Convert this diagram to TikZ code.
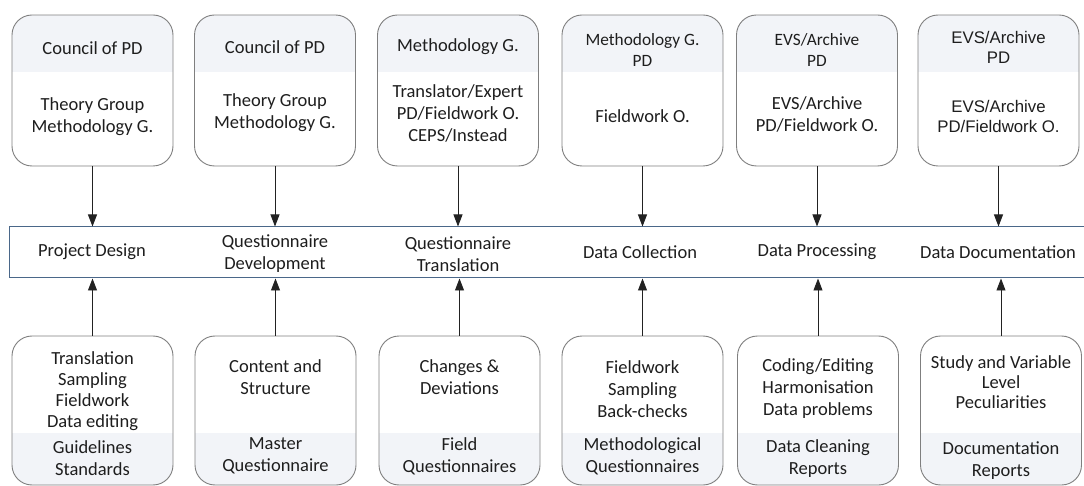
\documentclass[tikz,border=0pt]{standalone}
\usepackage{fontspec}
\setmainfont{Carlito}
\newfontfamily\arialf{Liberation Sans}
\usetikzlibrary{arrows.meta}
\definecolor{boxline}{HTML}{7F7F7F}
\definecolor{headfill}{HTML}{F2F4F8}
\definecolor{bandline}{HTML}{4A6789}
\definecolor{txt}{HTML}{1E1E1E}
\definecolor{arrcol}{HTML}{222222}
\tikzset{
 card/.style={draw=boxline, line width=0.9pt, rounded corners=20pt, minimum width=161pt, inner sep=0pt, fill=white},
 tophead/.style={minimum height=151pt, path picture={\fill[headfill, sharp corners] (path picture bounding box.north west) rectangle ([yshift=-57pt]path picture bounding box.north east);}},
 botfoot/.style={minimum height=149pt, path picture={\fill[headfill, sharp corners] (path picture bounding box.south west) rectangle ([yshift=52pt]path picture bounding box.south east);}},
 lbl/.style={align=center, inner sep=0pt, text=txt, font=\fontsize{18.5}{22}\selectfont},
 lblsmall/.style={lbl, font=\fontsize{17.3}{21}\selectfont},
 lblarial/.style={lbl, font=\arialf\fontsize{16.8}{20}\selectfont},
 arr/.style={draw=arrcol, line width=0.9pt, -{Triangle[width=9pt,length=12pt]}},
 band/.style={draw=bandline, line width=1pt, fill=white, minimum height=51pt, minimum width=1086pt, inner sep=0pt}
}
\begin{document}
\begin{tikzpicture}[x=1pt,y=-1pt]
\useasboundingbox (0,0) rectangle (1084,486);
% band
\node[band] (band) at (552,252.5) {};
% top boxes
\node[card,tophead] (t1) at (92.5,90.5) {};
\node[card,tophead] (t2) at (275,90.5) {};
\node[card,tophead] (t3) at (458,90.5) {};
\node[card,tophead] (t4) at (642.5,90.5) {};
\node[card,tophead] (t5) at (817,90.5) {};
\node[card,tophead] (t6) at (998.5,90.5) {};
% bottom boxes
\node[card,botfoot] (b1) at (92.5,410.5) {};
\node[card,botfoot] (b2) at (275.5,410.5) {};
\node[card,botfoot] (b3) at (459.5,410.5) {};
\node[card,botfoot] (b4) at (642.5,410.5) {};
\node[card,botfoot] (b5) at (818,410.5) {};
\node[card,botfoot] (b6) at (1001,410.5) {};
% top texts
\node[lbl] (t1h) at (92.5,48) {Council of PD};
\node[lbl] (t1b) at (92.5,117) {Theory Group\\Methodology G.};
\node[lbl] (t2h) at (275,47) {Council of PD};
\node[lbl] (t2b) at (275,113) {Theory Group\\Methodology G.};
\node[lbl] (t3h) at (458,47) {Methodology G.};
\node[lbl] (t3b) at (458,113) {Translator/Expert\\PD/Fieldwork O.\\CEPS/Instead};
\node[lblsmall] (t4h) at (642.5,50) {Methodology G.\\PD};
\node[lbl] (t4b) at (642.5,116) {Fieldwork O.};
\node[lblsmall] (t5h) at (817,50) {EVS/Archive\\PD};
\node[lbl] (t5b) at (817,114) {EVS/Archive\\PD/Fieldwork O.};
\node[lblarial] (t6h) at (998.5,47) {EVS/Archive\\PD};
\node[lblarial] (t6b) at (998.5,116) {EVS/Archive\\PD/Fieldwork O.};
% band texts
\node[lbl] (p1) at (92,252) {Project Design};
\node[lbl] (p2) at (275,254) {Questionnaire\\Development};
\node[lbl] (p3) at (458,254) {Questionnaire\\Translation};
\node[lbl] (p4) at (640,252) {Data Collection};
\node[lbl] (p5) at (817,252) {Data Processing};
\node[lbl] (p6) at (998,252) {Data Documentation};
% bottom texts
\node[lbl, font=\fontsize{18.5}{21}\selectfont] (b1b) at (92.5,391.5) {Translation\\Sampling\\Fieldwork\\Data editing};
\node[lbl] (b1f) at (92.5,458.5) {Guidelines\\Standards};
\node[lbl] (b2b) at (275.5,377.5) {Content and\\Structure};
\node[lbl] (b2f) at (275.5,456) {Master\\Questionnaire};
\node[lbl] (b3b) at (459.5,377) {Changes \&\\Deviations};
\node[lbl] (b3f) at (459.5,456) {Field\\Questionnaires};
\node[lbl] (b4b) at (642.5,389) {Fieldwork\\Sampling\\Back-checks};
\node[lbl] (b4f) at (642.5,456) {Methodological\\Questionnaires};
\node[lbl] (b5b) at (818,389) {Coding/Editing\\Harmonisation\\Data problems};
\node[lbl] (b5f) at (818,458.5) {Data Cleaning\\Reports};
\node[lbl, font=\fontsize{18.5}{20}\selectfont] (b6b) at (1001,382) {Study and Variable\\Level\\Peculiarities};
\node[lbl] (b6f) at (1001,461) {Documentation\\Reports};
% arrows
\foreach \i in {1,...,6} {
  \draw[arr] (t\i.south) -- (t\i.south |- band.north);
  \draw[arr] (b\i.north) -- (b\i.north |- band.south);
}
\end{tikzpicture}
\end{document}
